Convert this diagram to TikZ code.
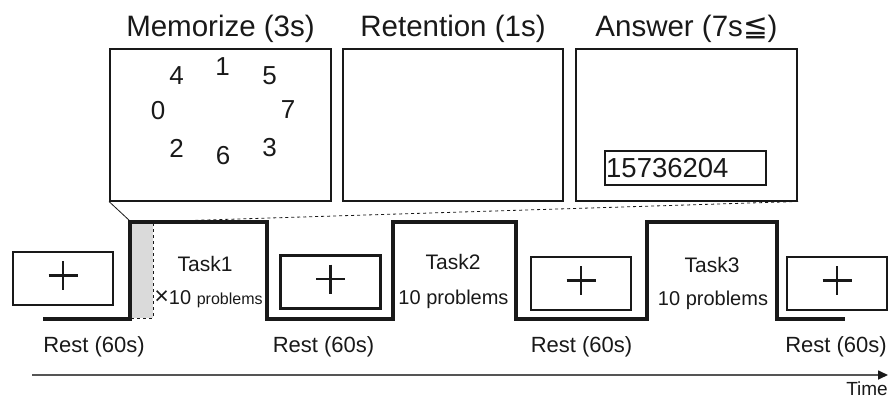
\documentclass[tikz,border=0pt]{standalone}
\usepackage{fontspec}
\setmainfont{Liberation Sans}
\newfontfamily\symfont{DejaVu Sans}
\usetikzlibrary{arrows.meta,positioning}
\definecolor{ink}{RGB}{25,25,25}
\definecolor{shadefill}{RGB}{218,218,218}
\definecolor{axisgray}{RGB}{85,85,85}
\tikzset{
  panel/.style={draw=ink,line width=2pt,minimum width=221pt,minimum height=151pt,inner sep=0pt},
  title/.style={inner sep=0pt,text=ink,font=\fontsize{29.5}{34}\selectfont},
  digit/.style={inner sep=0pt,text=ink,font=\fontsize{26}{30}\selectfont},
  ansbox/.style={draw=ink,line width=2pt,minimum width=161pt,minimum height=34pt,inner sep=0pt},
  anstext/.style={inner sep=0pt,text=ink,font=\fontsize{27.5}{32}\selectfont},
  restbox/.style={draw=ink,line width=2.4pt,minimum width=100pt,minimum height=53pt,inner sep=0pt},
  crossline/.style={draw=ink,line width=2.4pt},
  wave/.style={draw=ink,line width=3.2pt},
  shadebox/.style={draw=ink,dashed,line width=0.7pt,fill=shadefill,minimum width=22pt,
    minimum height=96pt,inner sep=0pt},
  zoomline/.style={draw=ink,line width=0.8pt},
  tasklbl/.style={inner sep=0pt,text=ink,font=\fontsize{21}{25}\selectfont},
  problbl/.style={inner sep=0pt,text=ink,font=\fontsize{20}{24}\selectfont},
  restlbl/.style={inner sep=0pt,text=ink,font=\fontsize{22}{26}\selectfont},
  timeaxis/.style={draw=axisgray,line width=1.6pt,-{Triangle[length=10pt,width=9pt,color=ink]}},
}

\begin{document}
\begin{tikzpicture}[x=1pt,y=-1pt]
\useasboundingbox (0,0) rectangle (888,398);
% screens of one problem
\node[panel] (mem) at (220.5,125) {};
\node[panel,minimum width=220pt] (ret) at (453,125) {};
\node[panel] (ans) at (686.5,125) {};
\node[title,above=6pt of mem] (memt) {Memorize (3s)};
\node[title,above=6pt of ret] (rett) {Retention (1s)};
\node[title,above=6pt of ans] (anst) {Answer (7s{\symfont ≦})};
\foreach \d/\px/\py in {4/176.5/76,1/222.5/66.5,5/269.5/75.5,0/158/111,
    7/288/109.5,2/176.5/148,6/223/156,3/269.5/147.5}
  \node[digit] (dg\d) at (\px,\py) {\d};
\node[ansbox] (abox) at (685.5,168) {};
\node[anstext,anchor=base west] (atext) at (606,178) {15736204};

% time course
\node[shadebox] (zoomed) at (142,270) {};
\draw[wave] (43,319) -| (130,222) -| (267,319) -| (393,222) -| (516,319)
  -| (647,222) -| (777,319) -- (845,319);
\draw[zoomline] (mem.south west) -- (zoomed.north west);
\draw[zoomline,dashed] (ans.south east) -- (zoomed.north east);
\foreach \n/\px/\py/\lx in {1/63/278.5/94,2/330.5/282/323.5,3/581/283.5/581.5,4/837/283.5/836}{
  \node[restbox] (rest\n) at (\px,\py) {};
  \draw[crossline] ([shift={(-14.5pt,3pt)}]rest\n.center) -- ([shift={(14.5pt,3pt)}]rest\n.center);
  \draw[crossline] ([yshift=17.5pt]rest\n.center) -- ([yshift=-11.5pt]rest\n.center);
  \node[restlbl,anchor=base] (rl\n) at (\lx,352) {Rest (60s)};
}
\node[tasklbl,anchor=base] (task1) at (205,271) {Task1};
\node[problbl,anchor=base] (prob1) at (208.5,304)
  {{\fontsize{25}{28}\selectfont ×}10 {\fontsize{16}{19}\selectfont problems}};
\node[tasklbl,anchor=base] (task2) at (453,269) {Task2};
\node[problbl,anchor=base] (prob2) at (453.5,304) {10 problems};
\node[tasklbl,anchor=base] (task3) at (712,272) {Task3};
\node[problbl,anchor=base] (prob3) at (713,305) {10 problems};

\coordinate (tstart) at (32,375);
\coordinate (tend) at (888,375);
\draw[timeaxis] (tstart) -- (tend);
\node[restlbl,font=\fontsize{19}{22}\selectfont,anchor=base east] (timel) at (888,395) {Time};
\end{tikzpicture}
\end{document}
